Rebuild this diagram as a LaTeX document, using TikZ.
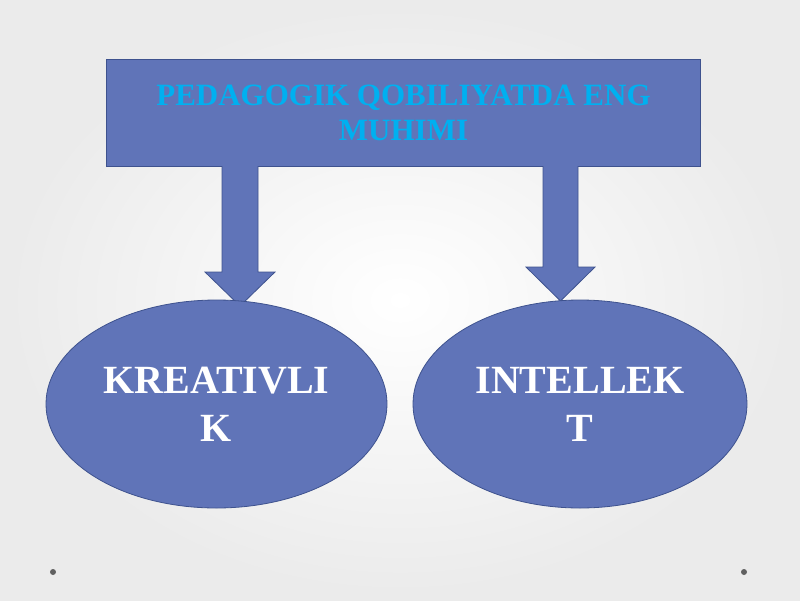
\documentclass[tikz,border=0pt]{standalone}
\usepackage{fontspec}
\setmainfont{Liberation Serif}
\usetikzlibrary{calc,shapes.geometric}
\definecolor{boxblue}{RGB}{96,116,184}
\definecolor{edgeblue}{RGB}{62,82,142}
\definecolor{titlecyan}{RGB}{0,176,240}
\tikzset{
  panel/.style={draw=edgeblue, line width=1pt, fill=boxblue},
  bubble/.style={ellipse, draw=edgeblue, line width=0.8pt, fill=boxblue, text=white,
    font=\fontsize{40}{48}\selectfont\bfseries, align=center, inner sep=0pt},
  blockarrow/.style={draw=edgeblue, line width=0.8pt, fill=boxblue, line join=miter},
  dot/.style={fill=gray!75!black, draw=none}
}
\begin{document}
\begin{tikzpicture}[x=1pt,y=-1pt]
\shade[inner color=white, outer color=gray!16] (0,0) rectangle (800,600);
\useasboundingbox (0,0) rectangle (800,600);
% title box
\node[panel, minimum width=594pt, minimum height=107pt, inner sep=0pt, anchor=north west,
  text=titlecyan, font=\fontsize{31}{35}\selectfont\bfseries, align=center]
  (title) at (106,59) {PEDAGOGIK QOBILIYATDA ENG\\MUHIMI};
% block arrows (connectors)
\coordinate (L1) at (240,166);
\coordinate (L2) at (240,306);
\coordinate (R1) at (560.5,166);
\coordinate (R2) at (560.5,301);
\draw[blockarrow] ($(L1)+(-18,0)$) -- ($(L2)+(-18,-34)$) -- ($(L2)+(-35,-34)$) -- (L2)
  -- ($(L2)+(35,-34)$) -- ($(L2)+(18,-34)$) -- ($(L1)+(18,0)$);
\draw[blockarrow] ($(R1)+(-17.5,0)$) -- ($(R2)+(-17.5,-34)$) -- ($(R2)+(-34.5,-34)$) -- (R2)
  -- ($(R2)+(34.5,-34)$) -- ($(R2)+(17.5,-34)$) -- ($(R1)+(17.5,0)$);
% ellipses
\node[bubble, minimum width=341pt, minimum height=208pt] (kre) at (216.5,404) {KREATIVLI\\K};
\node[bubble, minimum width=334pt, minimum height=208pt] (int) at (580,404) {INTELLEK\\T};
% slide dots
\fill[dot] (53,572) circle (3pt);
\fill[dot] (744,572) circle (3pt);
\end{tikzpicture}
\end{document}
